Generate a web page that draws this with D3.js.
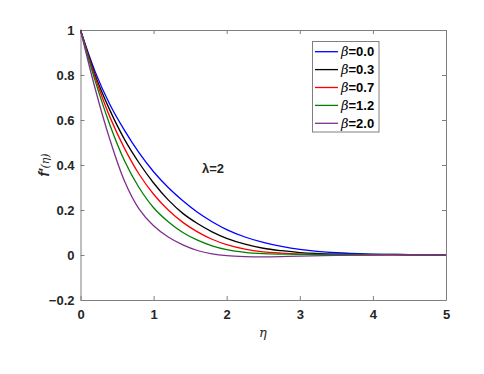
<!DOCTYPE html>
<html><head><meta charset="utf-8">
<script src="https://cdn.jsdelivr.net/npm/d3@7"></script>
<style>body{margin:0;background:#fff}svg{display:block}</style>
</head><body>
<svg id="c" width="484" height="374"></svg>
<script>
const eta = [0,0.2,0.4,0.6,0.8,1.0,1.2,1.4,1.6,1.8,2.0,2.25,2.5,2.75,3.0,3.5,4.0,4.5,5.0];
const beta00 = [1,0.815,0.67,0.555,0.455,0.37,0.3,0.241,0.19,0.148,0.113,0.08,0.056,0.038,0.025,0.01,0.004,0.002,0];
const beta03 = [1,0.8,0.645,0.515,0.41,0.32,0.245,0.185,0.14,0.103,0.074,0.048,0.03,0.019,0.011,0.004,0.002,0.001,0];
const beta07 = [1,0.79,0.615,0.475,0.36,0.27,0.2,0.145,0.103,0.07,0.046,0.026,0.014,0.008,0.004,0.001,0.001,0.001,0];
const beta12 = [1,0.775,0.58,0.42,0.3,0.21,0.148,0.1,0.066,0.041,0.024,0.012,0.006,0.004,0.003,0.003,0.003,0.002,0];
const beta20 = [1,0.74,0.515,0.33,0.205,0.13,0.08,0.045,0.02,0.005,-0.003,-0.007,-0.008,-0.007,-0.005,-0.002,0,0,0];
const seriesNames = ["0.0","0.3","0.7","1.2","2.0"];
const seriesValues = [beta00,beta03,beta07,beta12,beta20];
const seriesColors = ["#0000ff","#000000","#ff0000","#008000","#7e2f8e"];
const xTicks = [0,1,2,3,4,5];
const yTicks = [-0.2,0,0.2,0.4,0.6,0.8,1];

const svg = d3.select("#c");
const x = d3.scaleLinear().domain([0,5]).range([80.5,446]);
const y = d3.scaleLinear().domain([-0.2,1]).range([300,30]);
const font = "'Liberation Sans', Arial, sans-serif";
const axisCol = "#7f7f7f", txtCol = "#262626";

function styleAxis(g){
  g.select(".domain").attr("stroke",axisCol);
  g.selectAll(".tick line").attr("stroke",axisCol);
  g.selectAll(".tick text").attr("fill",txtCol).attr("font-family",font).attr("font-size",13).attr("font-weight","bold");
}
const fmtY = d => d===0 ? "0" : (d===1 ? "1" : d3.format(".1f")(d));
svg.append("g").attr("transform","translate(0,300)")
  .call(d3.axisBottom(x).tickValues(xTicks).tickSize(-4).tickSizeOuter(0).tickPadding(10).tickFormat(d3.format("d")))
  .call(styleAxis);
svg.append("g").attr("transform","translate(0,30)")
  .call(d3.axisTop(x).tickValues(xTicks).tickSize(-4).tickSizeOuter(0).tickFormat(""))
  .call(styleAxis);
svg.append("g").attr("transform","translate(80.5,0)")
  .call(d3.axisLeft(y).tickValues(yTicks).tickSize(-4).tickSizeOuter(0).tickPadding(6).tickFormat(fmtY))
  .call(styleAxis);
svg.append("g").attr("transform","translate(446,0)")
  .call(d3.axisRight(y).tickValues(yTicks).tickSize(-4).tickSizeOuter(0).tickFormat(""))
  .call(styleAxis);

const line = d3.line().x((d,i)=>x(eta[i])).y(d=>y(d)).curve(d3.curveCatmullRom.alpha(0.5));
seriesValues.forEach((vals,k)=>{
  svg.append("path").datum(vals).attr("d",line).attr("fill","none")
    .attr("stroke",seriesColors[k]).attr("stroke-width",1.3);
});

svg.append("text").attr("x",263).attr("y",337).attr("text-anchor","middle")
  .attr("font-family","'DejaVu Serif', serif").attr("font-style","italic").attr("font-size",13).attr("fill",txtCol).text("η");
const yl = svg.append("text").attr("transform","translate(49,165) rotate(-90)").attr("text-anchor","middle")
  .attr("font-family",font).attr("fill",txtCol);
yl.append("tspan").attr("font-style","italic").attr("font-weight","bold").attr("font-size",14).text("f'");
yl.append("tspan").attr("font-style","italic").attr("font-size",11).attr("font-family","'DejaVu Serif', serif").text("(η)");

svg.append("text").attr("x",213).attr("y",173).attr("text-anchor","middle")
  .attr("font-family",font).attr("font-size",13).attr("font-weight","bold").attr("fill",txtCol).text("λ=2");

const lg = svg.append("g");
lg.append("rect").attr("x",312.5).attr("y",41.5).attr("width",66.5).attr("height",90.5)
  .attr("fill","#fff").attr("stroke",axisCol).attr("stroke-width",1);
seriesNames.forEach((n,k)=>{
  const yy = 51.7 + k*17.9;
  lg.append("line").attr("x1",315).attr("x2",338).attr("y1",yy).attr("y2",yy)
    .attr("stroke",seriesColors[k]).attr("stroke-width",1.3);
  const t = lg.append("text").attr("x",341).attr("y",yy+4.5).attr("font-family",font).attr("font-size",13).attr("fill","#000");
  t.append("tspan").attr("font-family","'DejaVu Serif', serif").attr("font-style","italic").attr("font-size",13).text("β");
  t.append("tspan").attr("font-weight","bold").text("="+n);
});
</script>
</body></html>
